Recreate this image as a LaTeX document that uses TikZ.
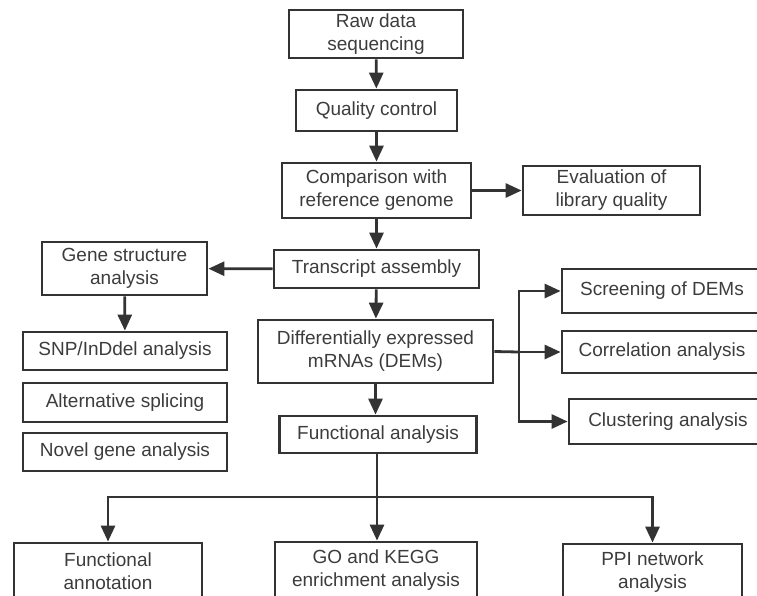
\documentclass[tikz,border=0pt]{standalone}
\usepackage{fontspec}
\setmainfont{Liberation Sans}
\usetikzlibrary{arrows.meta}
\definecolor{linegray}{HTML}{333333}
\definecolor{textgray}{HTML}{3C3C3C}
\tikzset{
	box/.style={draw=linegray, line width=2.8pt, align=center, inner sep=0pt, text=textgray,
		font=\fontsize{19}{23}\selectfont},
	flow/.style={draw=linegray, line width=2.8pt, -{Triangle[length=16pt, width=14pt]}},
	link/.style={draw=linegray, line width=2.8pt}
}
\begin{document}
\begin{tikzpicture}[x=1pt, y=-1pt]
			%%%%% START %%%%%
			\useasboundingbox (0,0) rectangle (757,595);
			\clip (0,0) rectangle (757,595);
			
			\node[box, minimum width=174pt, minimum height=48pt] (raw) at (376, 34) {Raw data\\sequencing};
			\node[box, minimum width=161pt, minimum height=41pt] (qc) at (376.5, 110.5) {Quality control};
			\node[box, minimum width=189pt, minimum height=55pt] (comp) at (376.5, 190.5) {Comparison with\\reference genome};
			\node[box, minimum width=177pt, minimum height=49pt] (eval) at (611.5, 190.5) {Evaluation of\\library quality};
			\node[box, minimum width=205pt, minimum height=38pt] (trans) at (376.5, 269) {Transcript assembly};
			
			\node[box, minimum width=165pt, minimum height=53pt] (gene) at (124.5, 268.5) {Gene structure\\analysis};
			\node[box, minimum width=204pt, minimum height=38pt] (snp) at (125, 351) {SNP/InDdel analysis};
			\node[box, minimum width=204pt, minimum height=39pt] (alt) at (125, 402.5) {Alternative splicing};
			\node[box, minimum width=204pt, minimum height=38pt] (novel) at (125, 452) {Novel gene analysis};
			
			\node[box, minimum width=235pt, minimum height=63pt] (dems) at (375.5, 351.5) {Differentially expressed\\mRNAs (DEMs)};
			\node[box, minimum width=197pt, minimum height=37pt] (func) at (378, 434.5) {Functional analysis};
			
			\node[box, minimum width=200pt, minimum height=44pt] (screen) at (662, 291) {Screening of DEMs};
			\node[box, minimum width=200pt, minimum height=42pt] (corr) at (662, 352) {Correlation analysis};
			\node[box, minimum width=198pt, minimum height=45pt] (clust) at (668, 421.5) {Clustering analysis};
			
			\node[box, minimum width=188pt, minimum height=56pt] (annot) at (108, 571) {Functional\\annotation};
			\node[box, minimum width=202pt, minimum height=56pt] (enrich) at (376, 570) {GO and KEGG\\enrichment analysis};
			\node[box, minimum width=179pt, minimum height=56pt] (ppi) at (652.5, 572) {PPI network\\analysis};
			
			\coordinate (split) at (519, 352);
			\coordinate (fork) at (377, 497);
			
			\draw[flow] (raw) -- (qc);
			\draw[flow] (qc) -- (comp);
			\draw[flow] (comp) -- (eval);
			\draw[flow] (comp) -- (trans);
			\draw[flow] (trans) -- (gene);
			\draw[flow] (gene) -- (snp);
			\draw[flow] (trans) -- (dems);
			\draw[flow] (dems.south) -- (dems.south |- func.north);
			
			\draw[link] (dems.east) -- (split);
			\draw[flow] (split) |- (screen.west);
			\draw[flow] (split) -- (corr.west);
			\draw[flow] (split) |- (clust.west);
			
			\draw[link] (func.south -| fork) -- (fork);
			\draw[flow] (fork) -- (enrich.north -| fork);
			\draw[flow] (fork) -| (annot.north);
			\draw[flow] (fork) -| (ppi.north);
			
			%%%%% END %%%%%
\end{tikzpicture}
\end{document}
